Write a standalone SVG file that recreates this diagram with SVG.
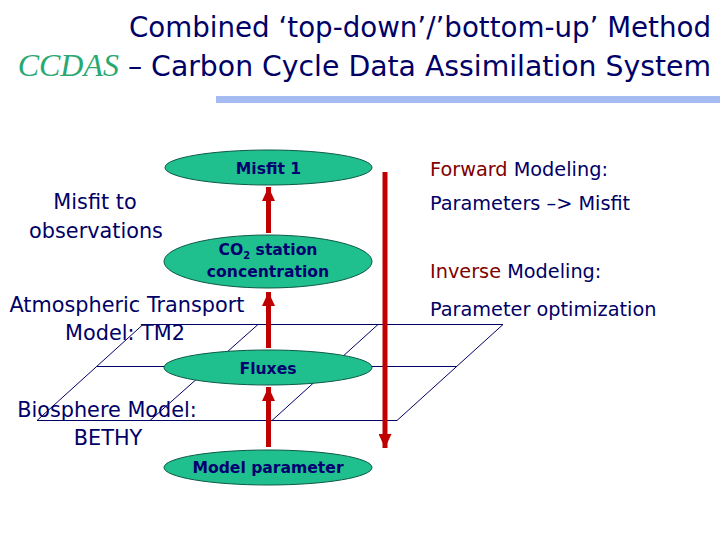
<svg xmlns="http://www.w3.org/2000/svg" width="720" height="540" viewBox="0 0 720 540">
<defs>
<style>
.title{font-family:"DejaVu Sans","Liberation Sans",sans-serif;font-size:27.7px;fill:#000066}
.lbl{font-family:"DejaVu Sans","Liberation Sans",sans-serif;font-size:20.8px;fill:#000066;text-anchor:middle}
.side{font-family:"DejaVu Sans","Liberation Sans",sans-serif;font-size:19.3px;fill:#000066}
.red{fill:#800000}
.node ellipse{fill:#20bf8e;stroke:#0d5a48;stroke-width:1}
.node text{font-family:"DejaVu Sans","Liberation Sans",sans-serif;font-size:15.6px;font-weight:bold;fill:#000070;text-anchor:middle}
.grid line{stroke:#000066;stroke-width:1}
.arr{stroke:#c00000;stroke-width:5;fill:none}
</style>
<marker id="ah" viewBox="0 0 14 13" refX="14" refY="6.5" markerWidth="14" markerHeight="13" markerUnits="userSpaceOnUse" orient="auto">
<path d="M0,0 L14,6.5 L0,13 Z" fill="#c00000"/>
</marker>
</defs>
<rect width="720" height="540" fill="#ffffff"/>

<g id="title">
<text class="title" x="711" y="37" text-anchor="end">Combined ‘top-down’/’bottom-up’ Method</text>
<text class="title" x="711" y="76" text-anchor="end" style="font-size:28.3px"><tspan font-family="'Liberation Serif',serif" font-style="italic" style="font-size:32px" fill="#2aa872">CCDAS</tspan> – Carbon Cycle Data Assimilation System</text>
<rect x="216" y="96" width="504" height="7" fill="#a4bcf2"/>
</g>

<g class="grid" id="grid">
<line x1="143" y1="324.5" x2="503" y2="324.5"/>
<line x1="97" y1="366.5" x2="457" y2="366.5"/>
<line x1="37" y1="420.5" x2="397" y2="420.5"/>
<line x1="37" y1="420.5" x2="143" y2="324.5"/>
<line x1="150" y1="420.5" x2="258" y2="324.5"/>
<line x1="272" y1="420.5" x2="378" y2="324.5"/>
<line x1="397" y1="420.5" x2="503" y2="324.5"/>
</g>

<g id="labels">
<text class="lbl" x="95" y="209">Misfit to</text>
<text class="lbl" x="96" y="238">observations</text>
<text class="lbl" x="127" y="312">Atmospheric Transport</text>
<text class="lbl" x="125" y="340">Model: TM2</text>
<text class="lbl" x="107" y="417">Biosphere Model:</text>
<text class="lbl" x="108" y="445">BETHY</text>
</g>

<g id="side-text">
<text class="side" x="430" y="176"><tspan class="red">Forward</tspan> Modeling:</text>
<text class="side" x="430" y="210">Parameters –&gt; Misfit</text>
<text class="side" x="430" y="278"><tspan class="red">Inverse</tspan> Modeling:</text>
<text class="side" x="430" y="316">Parameter optimization</text>
</g>

<g class="node" id="misfit1">
<ellipse cx="268.5" cy="167.5" rx="103.5" ry="17.5"/>
<text x="268.5" y="174">Misfit 1</text>
</g>
<g class="node" id="co2">
<ellipse cx="268" cy="261.5" rx="104" ry="26.5"/>
<text x="268" y="255">CO<tspan style="font-size:10px" dy="4">2</tspan><tspan dy="-4"> station</tspan></text>
<text x="268" y="277">concentration</text>
</g>
<g class="node" id="fluxes">
<ellipse cx="268" cy="367.5" rx="104" ry="17.5"/>
<text x="268" y="374">Fluxes</text>
</g>
<g class="node" id="modelparam">
<ellipse cx="268" cy="467.5" rx="104" ry="17.5"/>
<text x="268" y="473">Model parameter</text>
</g>

<g id="connectors">
<line class="arr" x1="268.5" y1="233" x2="268.5" y2="187" marker-end="url(#ah)"/>
<line class="arr" x1="268.5" y1="348" x2="268.5" y2="292" marker-end="url(#ah)"/>
<line class="arr" x1="268.5" y1="447" x2="268.5" y2="387" marker-end="url(#ah)"/>
<line class="arr" x1="385" y1="172" x2="385" y2="448" marker-end="url(#ah)"/>
</g>
</svg>
